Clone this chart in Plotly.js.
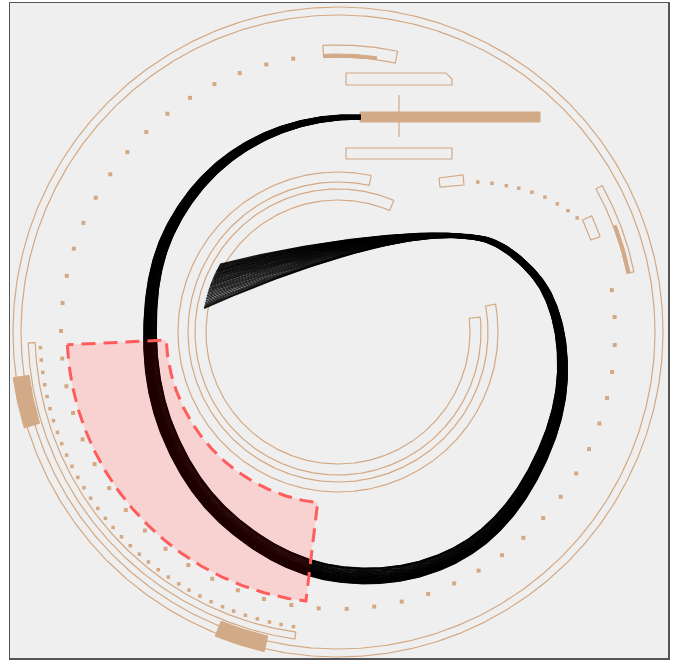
<!DOCTYPE html>
<html>
<head>
<meta charset="utf-8">
<script src="https://cdn.plot.ly/plotly-3.0.1.min.js"></script>
<style>html,body{margin:0;padding:0;background:#fff;}</style>
</head>
<body>
<div id="chart" style="width:675px;height:661px;"></div>
<script>
// ---- track data (angles in degrees, counter-clockwise from east; radii in plot units) ----
// outlined track segments
const segStart = [0, 182, 67, 78, 78, 20, 11.5];
const segEnd   = [360, 262, 366, 370, 93, 24.6, 29];
const segInner = [317, 303, 132, 150, 275, 269, 295];
const segOuter = [325, 310, 143, 160, 287, 279, 302];

// filled track blocks
const blockStart = [188, 248, 82, 11.5];
const blockEnd   = [197, 257, 93, 21];
const blockInner = [312, 312, 275, 295];
const blockOuter = [328, 328, 278, 298];

// dense dotted track
const dotsAAngle = [183,185.4,187.8,190.2,192.5,194.9,197.3,199.7,202,204.4,206.8,209.2,211.5,213.9,216.3,218.7,221,223.4,225.8,228.2,230.5,232.9,235.3,237.7,240,242.4,244.8,247.2,249.5,251.9,254.3,256.7,259,261.4];
const dotsAValue = [298,298,298,298,298,298,298,298,298,298,298,298,298,298,298,298,298,298,298,298,298,298,298,298,298,298,298,298,298,298,298,298,298,298];

// sparse dotted track
const dotsBAngle = [368.7,363.1,357.3,351.7,346.2,340.7,335.0,329.3,323.5,317.8,312.0,306.3,300.5,294.8,289.0,283.3,277.5,271.8,266.0,260.3,254.5,248.8,243.0,237.3,231.5,225.8,220.0,214.3,208.5,202.8,197.0,191.3,185.5,179.8,174.0,168.3,162.5,156.8,151.0,145.3,139.5,133.8,128.0,122.3,116.5,110.8,105.0,99.3];
const dotsBValue = [277,277,277,277,277,277,277,277,277,277,277,277,277,277,277,277,277,277,277,277,277,277,277,277,277,277,277,277,277,277,277,277,277,277,277,277,277,277,277,277,277,277,277,277,277,277,277,277];

// rising scatter between the small boxes
const dotsCAngle = [47, 44, 41, 38.5, 35.8, 33.1, 30.3, 27.8, 25.5];
const dotsCValue = [205, 214, 223, 231, 239, 247, 254, 260, 265];

// bar block near the top (cartesian units)
const barLeft    = [8, 22, 8];
const barRight   = [114, 202, 114];
const barBottom  = [247, 210, 173];
const barTop     = [259, 220, 184];
const barChamfer = [6, 0, 0];
const barFilled  = [false, true, false];
const markX = [61];
const markLow = [195];
const markHigh = [237];
const smallBoxX = [101, 125, 126, 102];
const smallBoxY = [154, 157, 147, 145];

// links: one source position, many target positions on the inner track
const linkSourceAngle = 84;
const linkTargetAngles = [150.0,150.4,150.8,151.2,151.6,152.0,152.4,152.8,153.2,153.6,154.0,154.5,155.0,155.4,155.8,156.3,156.8,157.2,157.7,158.2,158.7,159.2,159.7,160.2,160.8,161.4,162.0,162.6,163.2,163.9,164.6,165.3,166.0,166.8,167.6,168.2,168.8,169.3,169.7,170.0];

// highlighted region
const highlightStart = 182.7, highlightEnd = 263.2;
const highlightInner = 172, highlightOuter = 271;

// ---- geometry helpers ----
const DEG = Math.PI / 180;
function pt(r, a) { return [r * Math.cos(a * DEG), r * Math.sin(a * DEG)]; }

function arcLine(r, a0, a1, xs, ys) {
  const n = Math.max(2, Math.ceil(Math.abs(a1 - a0) / 0.5));
  for (let i = 0; i <= n; i++) {
    const p = pt(r, a0 + (a1 - a0) * i / n);
    xs.push(p[0]); ys.push(p[1]);
  }
}
function sector(a0, a1, r0, r1, xs, ys) {
  if (a1 - a0 >= 360) {
    arcLine(r1, a0, a1, xs, ys); xs.push(null); ys.push(null);
    arcLine(r0, a0, a1, xs, ys); xs.push(null); ys.push(null);
    return;
  }
  const startIdx = xs.length;
  arcLine(r1, a0, a1, xs, ys);
  arcLine(r0, a1, a0, xs, ys);
  xs.push(xs[startIdx]); ys.push(ys[startIdx]);
  xs.push(null); ys.push(null);
}

// smooth 1-D profile through control pairs (Catmull-Rom)
function profile(ctrl, x) {
  if (x <= ctrl[0][0]) return ctrl[0][1];
  const n = ctrl.length;
  if (x >= ctrl[n - 1][0]) return ctrl[n - 1][1];
  let i = 0;
  while (x > ctrl[i + 1][0]) i++;
  const x0 = ctrl[i][0], x1 = ctrl[i + 1][0];
  const y0 = ctrl[i][1], y1 = ctrl[i + 1][1];
  const ym = i > 0 ? ctrl[i - 1] : ctrl[i];
  const yp = i + 2 < n ? ctrl[i + 2] : ctrl[i + 1];
  const m0 = (y1 - ym[1]) / (x1 - ym[0]) * (x1 - x0);
  const m1 = (yp[1] - y0) / (yp[0] - x0) * (x1 - x0);
  const t = (x - x0) / (x1 - x0), t2 = t * t, t3 = t2 * t;
  return (2*t3 - 3*t2 + 1) * y0 + (t3 - 2*t2 + t) * m0 + (-2*t3 + 3*t2) * y1 + (t3 - t2) * m1;
}

const tan = '#d4a882';
const tanFill = '#d2aa88';
const traces = [];

// outlined tracks
{
  const xs = [], ys = [];
  for (let i = 0; i < segStart.length; i++) sector(segStart[i], segEnd[i], segInner[i], segOuter[i], xs, ys);
  traces.push({x: xs, y: ys, mode: 'lines', line: {color: tan, width: 1.2}, hoverinfo: 'skip'});
}
// filled blocks
{
  const xs = [], ys = [];
  for (let i = 0; i < blockStart.length; i++) sector(blockStart[i], blockEnd[i], blockInner[i], blockOuter[i], xs, ys);
  traces.push({x: xs, y: ys, mode: 'lines', fill: 'toself', fillcolor: tanFill, line: {color: tanFill, width: 1}, hoverinfo: 'skip'});
}
// dotted tracks
function dots(angles, values, size) {
  const xs = [], ys = [];
  angles.forEach((a, i) => { const p = pt(values[i], a); xs.push(p[0]); ys.push(p[1]); });
  traces.push({x: xs, y: ys, mode: 'markers', marker: {symbol: 'square', size: size, color: tan}, hoverinfo: 'skip'});
}
dots(dotsAAngle, dotsAValue, 3.5);
dots(dotsBAngle, dotsBValue, 4);
dots(dotsCAngle, dotsCValue, 3.5);

// bar block
{
  const xs = [], ys = [], fx = [], fy = [];
  for (let i = 0; i < barLeft.length; i++) {
    const tx = barFilled[i] ? fx : xs, ty = barFilled[i] ? fy : ys;
    const c = barChamfer[i];
    tx.push(barLeft[i], barRight[i], barRight[i], barRight[i] - c, barLeft[i], barLeft[i], null);
    ty.push(barBottom[i], barBottom[i], barTop[i] - c, barTop[i], barTop[i], barBottom[i], null);
  }
  for (let i = 0; i < markX.length; i++) { xs.push(markX[i], markX[i], null); ys.push(markLow[i], markHigh[i], null); }
  xs.push(...smallBoxX, smallBoxX[0], null); ys.push(...smallBoxY, smallBoxY[0], null);
  traces.push({x: fx, y: fy, mode: 'lines', fill: 'toself', fillcolor: tanFill, line: {color: tanFill, width: 1}, hoverinfo: 'skip'});
  traces.push({x: xs, y: ys, mode: 'lines', line: {color: tan, width: 1.2}, hoverinfo: 'skip'});
}

// highlighted region: base tint below the links
function highlightPath() {
  const xs = [], ys = [];
  arcLine(highlightOuter, highlightStart, highlightEnd, xs, ys);
  arcLine(highlightInner, highlightEnd, highlightStart, xs, ys);
  xs.push(xs[0]); ys.push(ys[0]);
  return [xs, ys];
}
{
  const [xs, ys] = highlightPath();
  traces.push({x: xs, y: ys, mode: 'lines', fill: 'toself', fillcolor: '#f8eeee', line: {width: 0}, hoverinfo: 'skip'});
}

// links: loop around the circle then sweep into the inner track
{
  const routeR = [[84,216],[120,206],[150,196],[180,188],[210,197],[240,218],[270,242],[300,252],[330,238],[350,228],[370,213],[382,195],[391,177],[397,159]];
  const routeW = [[84,4],[120,8],[160,11],[200,14],[270,16],[330,12],[370,8],[397,6]];
  const xs = [], ys = [];
  const endA = 397;
  linkTargetAngles.forEach(ta => {
    const k = (160 - ta) / 20;
    for (let a = linkSourceAngle; a <= endA; a += 0.5) {
      const p = pt(profile(routeR, a) + k * profile(routeW, a), a);
      xs.push(p[0]); ys.push(p[1]);
    }
    const P0 = pt(profile(routeR, endA) + k * profile(routeW, endA), endA);
    const Pb = pt(profile(routeR, endA - 0.5) + k * profile(routeW, endA - 0.5), endA - 0.5);
    const dx = P0[0] - Pb[0], dy = P0[1] - Pb[1], dl = Math.hypot(dx, dy);
    const P1 = [P0[0] + dx / dl * 65, P0[1] + dy / dl * 65];
    const P3 = pt(136, ta);
    const P2 = [P3[0] + (P1[0] - P3[0]) * 0.4, P3[1] + (P1[1] - P3[1]) * 0.4 + 4];
    for (let s = 1; s <= 90; s++) {
      const t = s / 90, u = 1 - t;
      xs.push(u*u*u*P0[0] + 3*u*u*t*P1[0] + 3*u*t*t*P2[0] + t*t*t*P3[0]);
      ys.push(u*u*u*P0[1] + 3*u*u*t*P1[1] + 3*u*t*t*P2[1] + t*t*t*P3[1]);
    }
    xs.push(null); ys.push(null);
  });
  traces.push({x: xs, y: ys, mode: 'lines', line: {color: 'rgba(0,0,0,0.85)', width: 1.2}, hoverinfo: 'skip'});
}

// highlighted region: translucent red layer and dashed border above the links
{
  const [xs, ys] = highlightPath();
  traces.push({x: xs, y: ys, mode: 'lines', fill: 'toself', fillcolor: 'rgba(255,0,0,0.12)',
    line: {color: '#ff5c5c', width: 3, dash: '14px,8px'}, hoverinfo: 'skip'});
}

const axisCommon = {visible: true, showgrid: false, zeroline: false, showticklabels: false, ticks: '',
  showline: true, mirror: true, linecolor: '#555', linewidth: 1.5, fixedrange: true};
const layout = {
  width: 675, height: 661,
  margin: {l: 10, r: 7, t: 3, b: 3},
  paper_bgcolor: '#ffffff', plot_bgcolor: '#efefef',
  showlegend: false,
  xaxis: Object.assign({range: [-328, 330]}, axisCommon),
  yaxis: Object.assign({range: [-326, 329]}, axisCommon)
};
Plotly.newPlot('chart', traces, layout, {displayModeBar: false, staticPlot: true});
</script>
</body>
</html>
